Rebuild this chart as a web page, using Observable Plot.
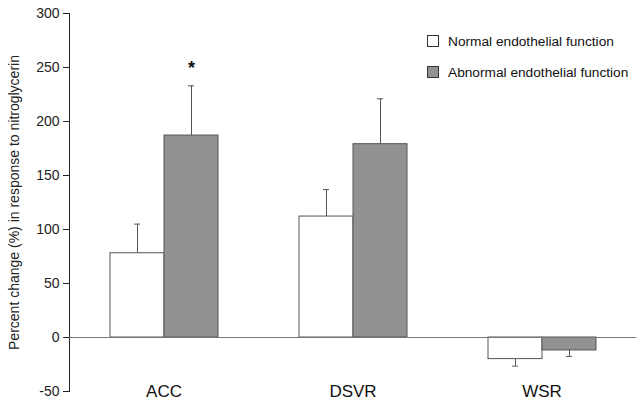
<!DOCTYPE html>
<html><head><meta charset="utf-8">
<script src="https://cdn.jsdelivr.net/npm/d3@7"></script>
<script src="https://cdn.jsdelivr.net/npm/@observablehq/plot@0.6"></script>
<style>
body{margin:0;background:#fff}
#wrap{position:relative;width:642px;height:404px;font-family:Arial,"Liberation Sans",sans-serif}
.leg{position:absolute;left:427px;font-size:13.7px;color:#111;display:flex;align-items:center;height:12px;white-space:nowrap}
.sw{width:10px;height:10px;border:1px solid #333;margin-right:9px;box-sizing:content-box}
</style></head><body><div id="wrap"></div>
<script>
const categories = ["ACC", "DSVR", "WSR"];
const groups = ["Normal endothelial function", "Abnormal endothelial function"];
const groupColors = ["#ffffff", "#929294"];
const normalMean = [78, 112, -20];
const normalErr = [27, 25, 6.5];
const abnormalMean = [187, 179, -12];
const abnormalErr = [46, 42, 5.5];
const abnormalSig = [true, false, false];
const yTicks = [-50, 0, 50, 100, 150, 200, 250, 300];
const yLabel = "Percent change (%) in response to nitroglycerin";

const rows = categories.flatMap((c, i) => [
  {cat: c, group: groups[0], mean: normalMean[i], err: normalErr[i], sig: false},
  {cat: c, group: groups[1], mean: abnormalMean[i], err: abnormalErr[i], sig: abnormalSig[i]}
]).map(d => ({...d, end: d.mean + Math.sign(d.mean) * d.err}));

const plot = Plot.plot({
  width: 642, height: 404,
  marginLeft: 68, marginRight: 6, marginTop: 13, marginBottom: 13,
  style: {fontFamily: "Arial, 'Liberation Sans', sans-serif", fontSize: "14px", color: "#222", background: "#fff"},
  fx: {domain: categories, padding: 0, axis: null},
  x: {domain: groups, paddingInner: 0, paddingOuter: 0.75, axis: null},
  y: {domain: [-50, 300], ticks: yTicks, tickFormat: d => String(d), tickSize: 6, tickPadding: 4, line: true,
      label: yLabel, labelAnchor: "center", labelOffset: 60, labelArrow: "none"},
  color: {domain: groups, range: groupColors},
  marks: [
    Plot.barY(rows, {fx: "cat", x: "group", y: "mean", fill: "group", stroke: "#555", strokeWidth: 1}),
    Plot.ruleY([0], {stroke: "#777"}),
    Plot.ruleX(rows, {fx: "cat", x: "group", y1: "mean", y2: "end", stroke: "#555"}),
    Plot.tickY(rows, {fx: "cat", x: "group", y: "end", stroke: "#555", insetLeft: 24, insetRight: 24}),
    Plot.text(rows.filter(d => d.sig), {fx: "cat", x: "group", y: "end", text: () => "*", dy: -18, fontSize: 18, fontWeight: "bold", fill: "#111"}),
    Plot.text(categories, {fx: d => d, text: d => d, frameAnchor: "bottom", lineAnchor: "middle", dy: 0, fontSize: 17, fill: "#111"})
  ]
});
const wrap = document.getElementById("wrap");
wrap.appendChild(plot);
const legTops = [35, 66];
groups.forEach((g, i) => {
  const el = document.createElement("div");
  el.className = "leg";
  el.style.top = legTops[i] + "px";
  el.innerHTML = `<span class="sw" style="background:${groupColors[i]}"></span><span>${g}</span>`;
  wrap.appendChild(el);
});
</script></body></html>
